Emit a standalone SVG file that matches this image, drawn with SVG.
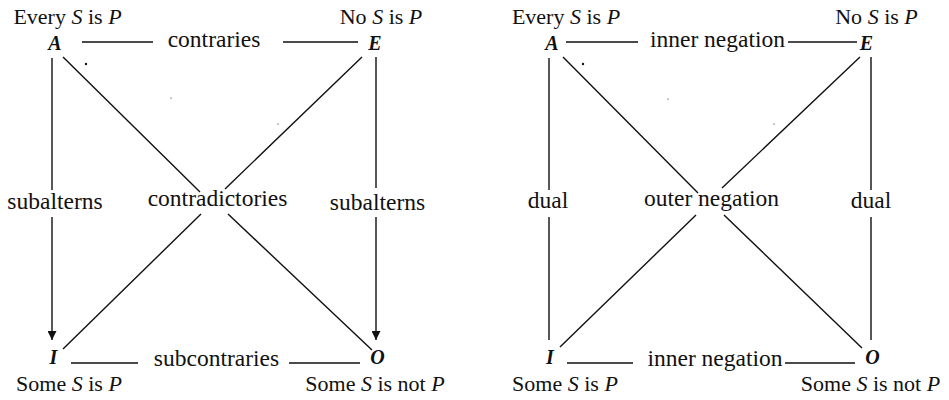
<svg xmlns="http://www.w3.org/2000/svg" width="949" height="400" viewBox="0 0 949 400" font-family="Liberation Serif, DejaVu Serif, serif">
<style>
text{font-family:"Liberation Serif","DejaVu Serif",serif;fill:#111;text-anchor:middle;}
.t{font-size:22px;}
.e{font-size:23.5px;}
.v{font-size:20px;font-weight:bold;font-style:italic;}
.i{font-style:italic;}
.ln{stroke:#111;stroke-width:1.4;fill:none;}
.dot{fill:#111;}
</style>
<defs>
<marker id="arr" viewBox="0 0 10 10" refX="10" refY="5" markerWidth="9" markerHeight="9" markerUnits="userSpaceOnUse" orient="auto">
<path d="M0,0 L10,5 L0,10 z" fill="#111"/>
</marker>
</defs>
<rect width="949" height="400" fill="#fff"/>

<g id="L-A"><text class="t" x="67.5" y="24">Every <tspan class="i">S</tspan> is <tspan class="i">P</tspan></text><text class="v" x="55" y="50">A</text></g>
<g id="L-E"><text class="t" x="381" y="24">No <tspan class="i">S</tspan> is <tspan class="i">P</tspan></text><text class="v" x="375" y="50">E</text></g>
<g id="L-I"><text class="v" x="53.5" y="364">I</text><text class="t" x="69" y="391">Some <tspan class="i">S</tspan> is <tspan class="i">P</tspan></text></g>
<g id="L-O"><text class="v" x="377.5" y="364">O</text><text class="t" x="375" y="391">Some <tspan class="i">S</tspan> is not <tspan class="i">P</tspan></text></g>

<g id="R-A"><text class="t" x="566" y="24">Every <tspan class="i">S</tspan> is <tspan class="i">P</tspan></text><text class="v" x="552" y="50">A</text></g>
<g id="R-E"><text class="t" x="876.5" y="24">No <tspan class="i">S</tspan> is <tspan class="i">P</tspan></text><text class="v" x="866.5" y="50">E</text></g>
<g id="R-I"><text class="v" x="550" y="364">I</text><text class="t" x="565" y="391">Some <tspan class="i">S</tspan> is <tspan class="i">P</tspan></text></g>
<g id="R-O"><text class="v" x="872.5" y="364">O</text><text class="t" x="870.5" y="391">Some <tspan class="i">S</tspan> is not <tspan class="i">P</tspan></text></g>

<g id="connectors">
<path class="ln" d="M82,42 H153 M283,42 H358"/>
<text class="e" x="214" y="47">contraries</text>
<path class="ln" d="M71,363 H138 M289,363 H360"/>
<text class="e" x="216.5" y="366">subcontraries</text>
<path class="ln" d="M52,58 V190"/>
<path class="ln" d="M52,217 V340" marker-end="url(#arr)"/>
<text class="e" x="55" y="209">subalterns</text>
<path class="ln" d="M376,57 V188"/>
<path class="ln" d="M376,217 V340" marker-end="url(#arr)"/>
<text class="e" x="377.5" y="210">subalterns</text>
<path class="ln" d="M63,57 L200,192 M228,214 L372,350"/>
<path class="ln" d="M362,57 L225,189 M201,214 L63,349"/>
<text class="e" x="217.5" y="206">contradictories</text>
<circle class="dot" cx="86" cy="64" r="1.2"/>
<circle class="dot" cx="171" cy="98" r="0.6"/>
<circle class="dot" cx="278" cy="124" r="0.6"/>

<path class="ln" d="M566,42 H638 M788,42 H857"/>
<text class="e" x="717.5" y="47">inner negation</text>
<path class="ln" d="M567,363 H633 M785,363 H855"/>
<text class="e" x="715" y="366">inner negation</text>
<path class="ln" d="M549,58 V190 M549,217 V340"/>
<text class="e" x="548" y="208">dual</text>
<path class="ln" d="M871,57 V190 M871,217 V340"/>
<text class="e" x="871" y="208">dual</text>
<path class="ln" d="M563,57 L698,193 M724,215 L862,348"/>
<path class="ln" d="M860,57 L722,188 M696,215 L560,347"/>
<text class="e" x="711.5" y="206">outer negation</text>
<circle class="dot" cx="583" cy="64" r="1.2"/>
<circle class="dot" cx="668" cy="99" r="0.6"/>
<circle class="dot" cx="774" cy="124" r="0.6"/>
</g>
</svg>
